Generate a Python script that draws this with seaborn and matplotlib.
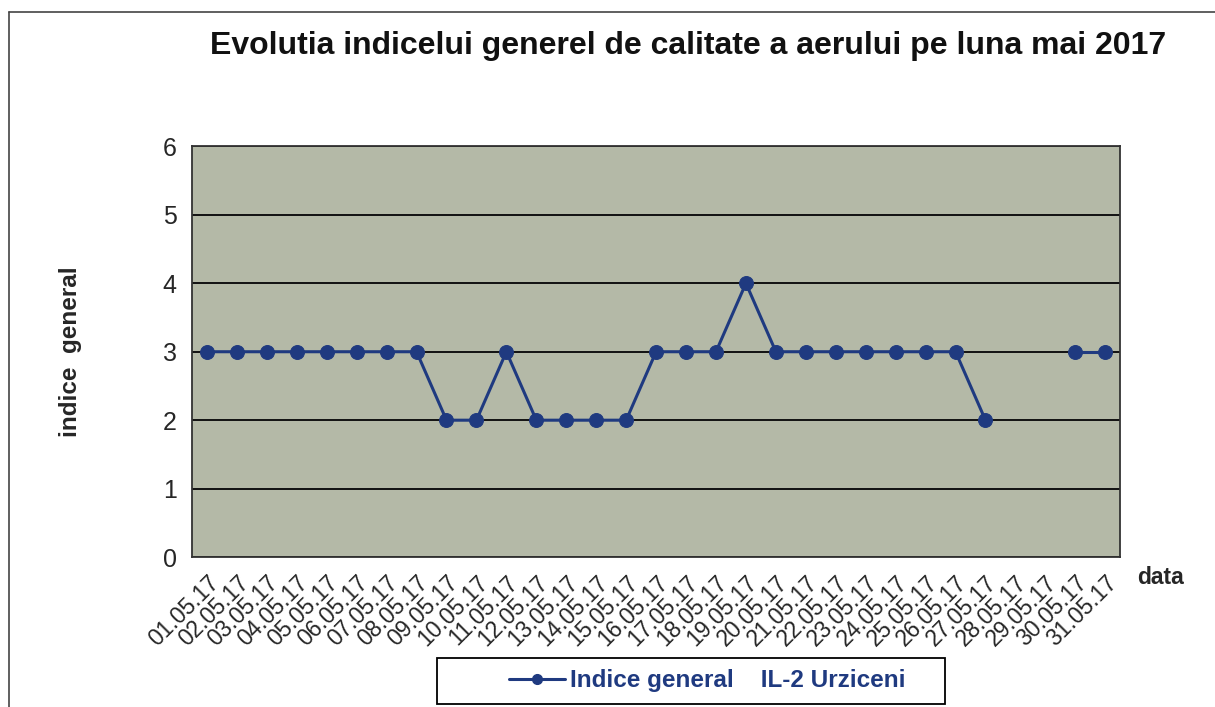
import numpy as np
import pandas as pd
import matplotlib
matplotlib.use('Agg')
import matplotlib.pyplot as plt
from matplotlib.lines import Line2D
from matplotlib.patches import Rectangle
import seaborn as sns

# date si valori (28 si 29 mai lipsesc)
zile = ['%02d.05.17' % z for z in range(1, 32)]
indice = [3, 3, 3, 3, 3, 3, 3, 3, 2, 2, 3, 2, 2, 2, 2, 3,
          3, 3, 4, 3, 3, 3, 3, 3, 3, 3, 2, np.nan, np.nan, 3, 3]

df = pd.DataFrame({'zi': zile, 'pos': np.arange(len(zile)), 'indice': indice})
# segmente separate ca sa ramana golul din date
df['segment'] = df['indice'].isna().cumsum()
df = df.dropna()

sns.set_style('white')
plt.rcParams['font.family'] = ['Liberation Sans', 'DejaVu Sans']

culoare = '#1f3a80'

fig = plt.figure(figsize=(12.15, 7.07), dpi=100)
ax = fig.add_axes([0.158, 0.212, 0.764, 0.581])
ax.set_facecolor('#b4b9a7')

sns.lineplot(data=df, x='pos', y='indice', units='segment', estimator=None,
             color=culoare, linewidth=2.2, marker='o', markersize=10,
             markeredgecolor=culoare, ax=ax, legend=False)

ax.set_ylim(0, 6)
ax.set_yticks(range(7))
ax.set_xlim(-0.5, len(zile) - 0.5)
ax.set_xticks(np.arange(len(zile) + 1) - 0.5)
ax.set_xticklabels([])
ax.set_xticks(np.arange(len(zile)), minor=True)
ax.set_xticklabels(zile, minor=True, rotation=45, ha='right',
                   rotation_mode='anchor', fontsize=16.5)
ax.tick_params(axis='x', which='major', length=7, width=1.2, direction='out', color='#222222')
ax.tick_params(axis='x', which='minor', length=0, pad=10)
ax.tick_params(axis='y', length=7, width=1.2, direction='out', labelsize=18,
               color='#222222', pad=4)
ax.grid(axis='y', color='#111111', linewidth=1.4)
ax.set_axisbelow(True)
for s in ax.spines.values():
    s.set_color('#333333')
    s.set_linewidth(1.3)

ax.set_xlabel('')
ax.set_ylabel('indice  general', fontsize=17.5, fontweight='bold', labelpad=58)

fig.text(0.566, 0.935, 'Evolutia indicelui generel de calitate a aerului pe luna mai 2017',
         fontsize=23, fontweight='bold', ha='center', va='center', color='#111111')
fig.text(0.955, 0.183, 'data', fontsize=16.5, fontweight='bold', ha='center', va='center')

handle = Line2D([], [], color=culoare, linewidth=2.2, marker='o', markersize=7)
leg = fig.legend([handle], ['Indice general    IL-2 Urziceni'], loc='center',
                 bbox_to_anchor=(0.582, 0.037), frameon=False,
                 handlelength=2.3, handletextpad=0.2, borderaxespad=0,
                 prop={'weight': 'bold', 'size': 17.5})
for t in leg.get_texts():
    t.set_color(culoare)
# caseta legendei
fig.add_artist(Rectangle((0.3597, 0.0042), 0.418, 0.065, transform=fig.transFigure,
                         fill=False, edgecolor='black', linewidth=1.3))

# chenarul scanat al paginii
fig.add_artist(Line2D([0.007, 0.007], [0.0, 0.983], color='#444444', linewidth=1.2))
fig.add_artist(Line2D([0.007, 1.0], [0.983, 0.983], color='#444444', linewidth=1.2))

fig.savefig('out.png', dpi=100)
